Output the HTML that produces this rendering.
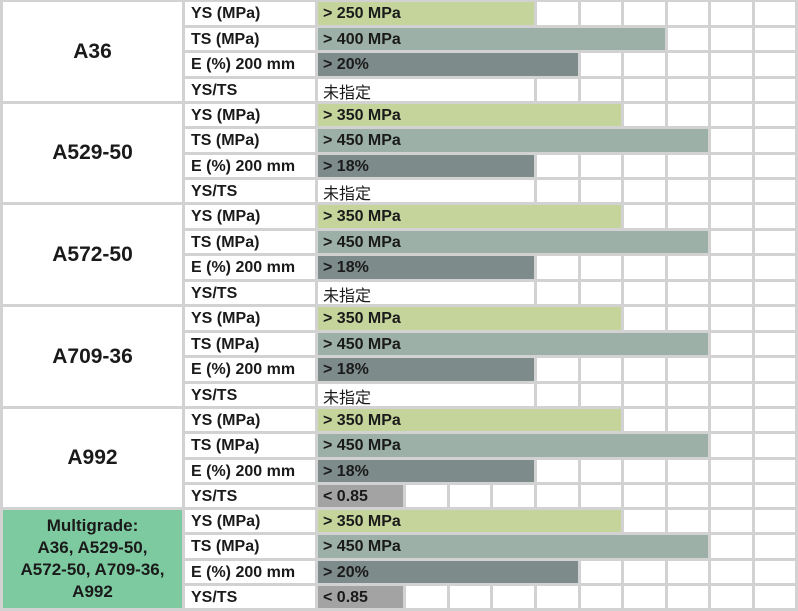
<!DOCTYPE html>
<html><head><meta charset="utf-8"><style>
body{margin:0;background:#fff}
#c{position:relative;width:798px;height:611px;background:#d2d2d2;overflow:hidden;font-family:"Liberation Sans","Noto Sans CJK SC",sans-serif;font-weight:bold;color:#1a1a1a}
#c div{position:absolute;box-sizing:border-box}
.cell{background:#fff}
.lbl{font-size:16px;padding-left:6px;display:flex;align-items:center;white-space:nowrap;padding-top:1px}
.grade{display:flex;align-items:center;justify-content:center;text-align:center;font-size:21px;line-height:1.1}
</style></head><body>
<div id="c"></div>
<script>
const grades=["A36","A529-50","A572-50","A709-36","A992","Multigrade:<br>A36, A529-50,<br>A572-50, A709-36,<br>A992"];
const metrics=["YS (MPa)","TS (MPa)","E (%) 200 mm","YS/TS"];
const ysValues=[250,350,350,350,350,350];
const tsValues=[400,450,450,450,450,450];
const eValues=[20,18,18,18,18,20];
const ratioValues=[null,null,null,null,0.85,0.85];
const colors=["#c5d49b","#9cb0a7","#7d8c8a","#a3a3a3"];
const c=document.getElementById('c');
const X0=316,CW=43.6,NC=11,GAP=3;
function colX(i){return X0+CW*i;}
function mpaCells(v){return v/50;}
function eCells(v){return (v-8)/2;}
function ratioCells(v){return v==null?5:Math.round(v/0.4);}
const gTop=[0,102,203,305,407,508,611];
function mk(x,y,w,h,cls,html){const d=document.createElement('div');d.className=cls||'';d.style.left=x+'px';d.style.top=y+'px';d.style.width=w+'px';d.style.height=h+'px';if(html!=null)d.innerHTML=html;c.appendChild(d);return d;}
for(let g=0;g<6;g++){
  const y0=gTop[g]+2,y1=gTop[g+1]-(g==5?3:1);
  const gd=mk(3,y0,179,y1-y0,'cell grade',grades[g]);
  
  
  if(g==5){gd.style.background='#7dcaa0';gd.style.fontSize='17px';gd.style.lineHeight='1.3';}
  const rh=(y1-y0+GAP)/4;
  for(let r=0;r<4;r++){
    const ry=Math.round(y0+rh*r),rh2=Math.round(y0+rh*(r+1))-ry-GAP;
    const l=mk(185,ry,130,rh2,'cell lbl',metrics[r]);
    
    
    let n,txt;
    if(r==0){n=mpaCells(ysValues[g]);txt='&gt; '+ysValues[g]+' MPa';}
    else if(r==1){n=mpaCells(tsValues[g]);txt='&gt; '+tsValues[g]+' MPa';}
    else if(r==2){n=eCells(eValues[g]);txt='&gt; '+eValues[g]+'%';}
    else {n=ratioCells(ratioValues[g]);txt=ratioValues[g]==null?'<span style="font-weight:normal">未指定</span>':'&lt; '+ratioValues[g];}
    for(let i=Math.round(n);i<NC;i++){
      const cx=Math.round(colX(i))+GAP,cw=Math.round(colX(i+1))-cx;
      const ce=mk(cx,ry,Math.min(cw,795-cx),rh2,'cell');
      
      
    }
    const bx=X0+2,bw=Math.round(colX(n))-bx;
    const b=mk(bx,ry,bw,rh2,'lbl',txt);
    b.style.background=(r==3&&ratioValues[g]==null)?'#fff':colors[r];
    b.style.paddingLeft='5px';
    
    
  }
}
</script></body></html>
